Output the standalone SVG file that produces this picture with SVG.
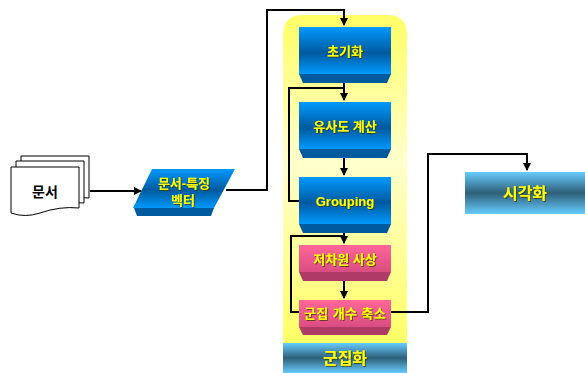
<svg xmlns="http://www.w3.org/2000/svg" width="585" height="373" viewBox="0 0 585 373">
<style>
.t{font-family:"Liberation Sans","Noto Sans CJK KR",sans-serif;font-weight:bold;fill:#FFFF00;text-anchor:middle;filter:url(#sh)}
.tb{font-family:"Liberation Sans","Noto Sans CJK KR",sans-serif;font-weight:bold;fill:#000;text-anchor:middle}
.ln{fill:none;stroke:#000;stroke-width:2}
.doc{fill:#fff;stroke:#000;stroke-width:1}
</style>
<defs>
<linearGradient id="gBlue" x1="0" y1="0" x2="0" y2="1">
<stop offset="0" stop-color="#0099FF"/><stop offset="0.55" stop-color="#005A9E"/><stop offset="1" stop-color="#0099FF"/>
</linearGradient>
<linearGradient id="gPink" x1="0" y1="0" x2="0" y2="1">
<stop offset="0" stop-color="#FF6699"/><stop offset="1" stop-color="#D94D80"/>
</linearGradient>
<linearGradient id="gTeal" x1="0" y1="0" x2="0" y2="1">
<stop offset="0" stop-color="#66CCFF"/><stop offset="0.5" stop-color="#2E5F78"/><stop offset="1" stop-color="#66CCFF"/>
</linearGradient>
<linearGradient id="gPanel" x1="0" y1="0" x2="0" y2="1">
<stop offset="0" stop-color="#FFFF66"/><stop offset="0.45" stop-color="#FFFFCC"/><stop offset="1" stop-color="#FFFF66"/>
</linearGradient>
<filter id="sh" x="-10%" y="-20%" width="120%" height="140%">
<feDropShadow dx="1" dy="1" stdDeviation="0.3" flood-color="#333300" flood-opacity="0.7"/>
</filter>
<marker id="ar" markerWidth="8" markerHeight="8" refX="7" refY="4" orient="auto" markerUnits="userSpaceOnUse">
<path d="M0,0 L8,4 L0,8 Z" fill="#000"/>
</marker>
</defs>

<g id="panel">
<path d="M283,343 V35 Q283,15 303,15 H387 Q407,15 407,35 V343 Z" fill="url(#gPanel)"/>
</g>
<g id="cluster-label">
<rect x="283" y="343" width="124" height="30" fill="url(#gTeal)"/>
<text class="t" x="345" y="364" font-size="16">군집화</text>
</g>

<g id="connectors">
<path class="ln" d="M90,191 H141" marker-end="url(#ar)"/>
<path class="ln" d="M226,190 H267 V10 H344 V25" marker-end="url(#ar)"/>
<path class="ln" d="M344,83 V100" marker-end="url(#ar)"/>
<path class="ln" d="M299,201 H289 V88 H344"/>
<path class="ln" d="M344,158 V175" marker-end="url(#ar)"/>
<path class="ln" d="M344,233 V243" marker-end="url(#ar)"/>
<path class="ln" d="M299,312 H291 V236 H344"/>
<path class="ln" d="M344,281 V298" marker-end="url(#ar)"/>
<path class="ln" d="M391,312 H428 V154 H527 V170" marker-end="url(#ar)"/>
</g>

<g id="doc">
<path class="doc" d="M21,156 H89 V198 Q70,196 50,203 Q35,207 21,203 Z"/>
<path class="doc" d="M16,161 H84 V203 Q65,201 45,208 Q30,212 16,208 Z"/>
<path class="doc" d="M11,167 H79 V208 Q60,206 40,213 Q25,218 11,213 Z"/>
<text class="tb" x="45" y="197" font-size="14">문서</text>
</g>

<g id="docvec">
<polygon points="134,208 214,208 211,216 137,216" fill="#005A9E"/>
<polygon points="152,169 235,169 214,208 133,208" fill="url(#gBlue)"/>
<text class="t" x="184" y="188" font-size="13">문서-특징</text>
<text class="t" x="183" y="205" font-size="13">벡터</text>
</g>

<g id="init">
<polygon points="299,74 391,74 387,83 303,83" fill="#005A9E"/>
<rect x="299" y="27" width="92" height="47" fill="url(#gBlue)"/>
<text class="t" x="345" y="56" font-size="13">초기화</text>
</g>

<g id="sim">
<polygon points="299,149 391,149 387,158 303,158" fill="#005A9E"/>
<rect x="299" y="102" width="92" height="47" fill="url(#gBlue)"/>
<text class="t" x="345" y="131" font-size="13">유사도 계산</text>
</g>

<g id="grouping">
<polygon points="299,224 391,224 387,233 303,233" fill="#005A9E"/>
<rect x="299" y="177" width="92" height="47" fill="url(#gBlue)"/>
<text class="t" x="345" y="206" font-size="13">Grouping</text>
</g>

<g id="lowdim">
<polygon points="299,272 391,272 387,281 303,281" fill="#B03A66"/>
<rect x="299" y="245" width="92" height="27" fill="url(#gPink)"/>
<text class="t" x="345" y="264" font-size="13">저차원 사상</text>
</g>

<g id="reduce">
<polygon points="299,327 391,327 387,335 303,335" fill="#B03A66"/>
<rect x="299" y="300" width="92" height="27" fill="url(#gPink)"/>
<text class="t" x="345" y="318" font-size="13" letter-spacing="0.4">군집 개수 축소</text>
</g>

<g id="vis">
<rect x="465" y="172" width="120" height="42" fill="url(#gTeal)"/>
<text class="t" x="525" y="199" font-size="16">시각화</text>
</g>
</svg>
